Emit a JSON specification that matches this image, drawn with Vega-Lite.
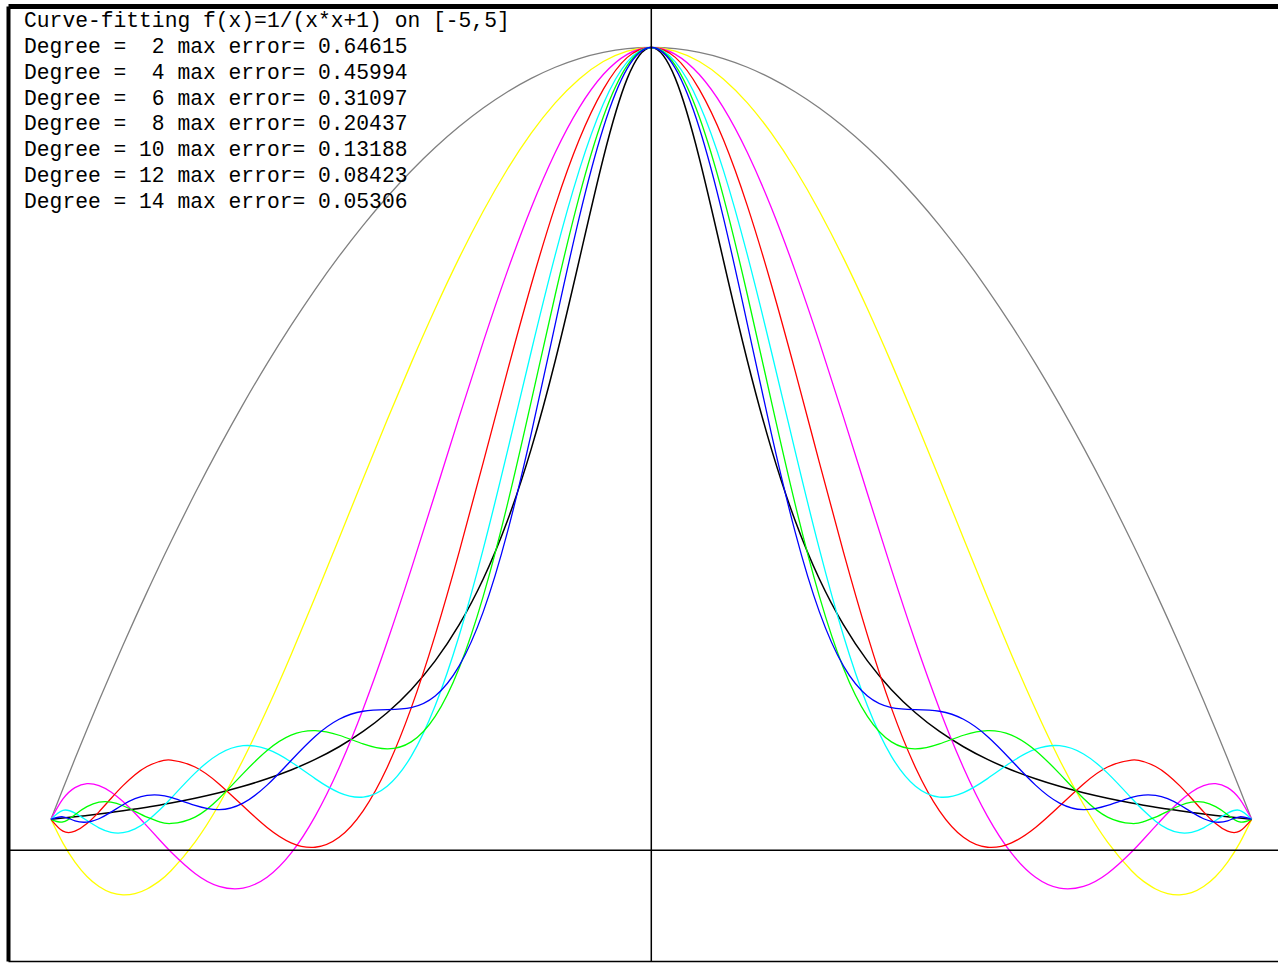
{
  "$schema": "https://vega.github.io/schema/vega-lite/v6.json",
  "width": 1270,
  "height": 955,
  "autosize": {"type": "none"},
  "padding": {"left": 8, "top": 6, "right": 0, "bottom": 2},
  "background": "white",
  "config": {
    "view": {"stroke": null},
    "axis": {"grid": false, "ticks": false, "labels": false, "title": null, "domainColor": "#000000"}
  },
  "resolve": {"axis": {"x": "independent", "y": "independent"}, "scale": {"y": "independent"}},
  "layer": [
    {
      "data": {"values": [
        {"x": -5.0, "f": 0.0385, "d2": 0.0385, "d4": 0.0385, "d6": 0.0385, "d8": 0.0385, "d10": 0.0385, "d12": 0.0385, "d14": 0.0385},
        {"x": -4.9, "f": 0.0400, "d2": 0.0765, "d4": 0.0088, "d6": 0.0638, "d8": 0.0237, "d10": 0.0497, "d12": 0.0352, "d14": 0.0416},
        {"x": -4.8, "f": 0.0416, "d2": 0.1138, "d4": -0.0148, "d6": 0.0779, "d8": 0.0237, "d10": 0.0462, "d12": 0.0443, "d14": 0.0366},
        {"x": -4.7, "f": 0.0433, "d2": 0.1504, "d4": -0.0328, "d6": 0.0829, "d8": 0.0332, "d10": 0.0370, "d12": 0.0542, "d14": 0.0350},
        {"x": -4.6, "f": 0.0451, "d2": 0.1862, "d4": -0.0453, "d6": 0.0805, "d8": 0.0478, "d10": 0.0279, "d12": 0.0598, "d14": 0.0392},
        {"x": -4.5, "f": 0.0471, "d2": 0.2212, "d4": -0.0529, "d6": 0.0726, "d8": 0.0644, "d10": 0.0223, "d12": 0.0599, "d14": 0.0474},
        {"x": -4.4, "f": 0.0491, "d2": 0.2554, "d4": -0.0557, "d6": 0.0606, "d8": 0.0804, "d10": 0.0218, "d12": 0.0554, "d14": 0.0567},
        {"x": -4.3, "f": 0.0513, "d2": 0.2888, "d4": -0.0541, "d6": 0.0460, "d8": 0.0941, "d10": 0.0266, "d12": 0.0484, "d14": 0.0642},
        {"x": -4.2, "f": 0.0536, "d2": 0.3215, "d4": -0.0483, "d6": 0.0300, "d8": 0.1043, "d10": 0.0362, "d12": 0.0411, "d14": 0.0683},
        {"x": -4.1, "f": 0.0561, "d2": 0.3535, "d4": -0.0388, "d6": 0.0136, "d8": 0.1104, "d10": 0.0494, "d12": 0.0356, "d14": 0.0687},
        {"x": -4.0, "f": 0.0588, "d2": 0.3846, "d4": -0.0256, "d6": -0.0022, "d8": 0.1123, "d10": 0.0647, "d12": 0.0333, "d14": 0.0658},
        {"x": -3.8, "f": 0.0648, "d2": 0.4446, "d4": 0.0102, "d6": -0.0289, "d8": 0.1037, "d10": 0.0960, "d12": 0.0413, "d14": 0.0558},
        {"x": -3.6, "f": 0.0716, "d2": 0.5015, "d4": 0.0570, "d6": -0.0450, "d8": 0.0826, "d10": 0.1199, "d12": 0.0645, "d14": 0.0505},
        {"x": -3.4, "f": 0.0796, "d2": 0.5554, "d4": 0.1127, "d6": -0.0472, "d8": 0.0550, "d10": 0.1302, "d12": 0.0954, "d14": 0.0587},
        {"x": -3.2, "f": 0.0890, "d2": 0.6062, "d4": 0.1755, "d6": -0.0337, "d8": 0.0283, "d10": 0.1258, "d12": 0.1243, "d14": 0.0811},
        {"x": -3.0, "f": 0.1000, "d2": 0.6538, "d4": 0.2436, "d6": -0.0037, "d8": 0.0092, "d10": 0.1099, "d12": 0.1434, "d14": 0.1118},
        {"x": -2.8, "f": 0.1131, "d2": 0.6985, "d4": 0.3152, "d6": 0.0422, "d8": 0.0037, "d10": 0.0892, "d12": 0.1490, "d14": 0.1417},
        {"x": -2.6, "f": 0.1289, "d2": 0.7400, "d4": 0.3887, "d6": 0.1028, "d8": 0.0161, "d10": 0.0718, "d12": 0.1432, "d14": 0.1631},
        {"x": -2.4, "f": 0.1479, "d2": 0.7785, "d4": 0.4627, "d6": 0.1760, "d8": 0.0491, "d10": 0.0662, "d12": 0.1325, "d14": 0.1731},
        {"x": -2.2, "f": 0.1712, "d2": 0.8138, "d4": 0.5359, "d6": 0.2593, "d8": 0.1031, "d10": 0.0797, "d12": 0.1263, "d14": 0.1752},
        {"x": -2.0, "f": 0.2000, "d2": 0.8462, "d4": 0.6068, "d6": 0.3498, "d8": 0.1770, "d10": 0.1169, "d12": 0.1349, "d14": 0.1777},
        {"x": -1.8, "f": 0.2358, "d2": 0.8754, "d4": 0.6745, "d6": 0.4444, "d8": 0.2680, "d10": 0.1799, "d12": 0.1667, "d14": 0.1922},
        {"x": -1.6, "f": 0.2809, "d2": 0.9015, "d4": 0.7379, "d6": 0.5398, "d8": 0.3717, "d10": 0.2674, "d12": 0.2270, "d14": 0.2296},
        {"x": -1.4, "f": 0.3378, "d2": 0.9246, "d4": 0.7960, "d6": 0.6330, "d8": 0.4829, "d10": 0.3750, "d12": 0.3162, "d14": 0.2969},
        {"x": -1.2, "f": 0.4098, "d2": 0.9446, "d4": 0.8480, "d6": 0.7208, "d8": 0.5958, "d10": 0.4959, "d12": 0.4299, "d14": 0.3953},
        {"x": -1.0, "f": 0.5000, "d2": 0.9615, "d4": 0.8932, "d6": 0.8004, "d8": 0.7044, "d10": 0.6213, "d12": 0.5592, "d14": 0.5189},
        {"x": -0.8, "f": 0.6098, "d2": 0.9754, "d4": 0.9310, "d6": 0.8692, "d8": 0.8027, "d10": 0.7416, "d12": 0.6920, "d14": 0.6555},
        {"x": -0.6, "f": 0.7353, "d2": 0.9862, "d4": 0.9609, "d6": 0.9251, "d8": 0.8853, "d10": 0.8473, "d12": 0.8145, "d14": 0.7884},
        {"x": -0.4, "f": 0.8621, "d2": 0.9938, "d4": 0.9825, "d6": 0.9663, "d8": 0.9478, "d10": 0.9297, "d12": 0.9134, "d14": 0.8998},
        {"x": -0.2, "f": 0.9615, "d2": 0.9985, "d4": 0.9956, "d6": 0.9915, "d8": 0.9877, "d10": 0.9821, "d12": 0.9777, "d14": 0.9740},
        {"x": 0.0, "f": 1.0, "d2": 1.0, "d4": 1.0, "d6": 1.0, "d8": 1.0, "d10": 1.0, "d12": 1.0, "d14": 1.0},
        {"x": 0.2, "f": 0.9615, "d2": 0.9985, "d4": 0.9956, "d6": 0.9915, "d8": 0.9877, "d10": 0.9821, "d12": 0.9777, "d14": 0.9740},
        {"x": 0.4, "f": 0.8621, "d2": 0.9938, "d4": 0.9825, "d6": 0.9663, "d8": 0.9478, "d10": 0.9297, "d12": 0.9134, "d14": 0.8998},
        {"x": 0.6, "f": 0.7353, "d2": 0.9862, "d4": 0.9609, "d6": 0.9251, "d8": 0.8853, "d10": 0.8473, "d12": 0.8145, "d14": 0.7884},
        {"x": 0.8, "f": 0.6098, "d2": 0.9754, "d4": 0.9310, "d6": 0.8692, "d8": 0.8027, "d10": 0.7416, "d12": 0.6920, "d14": 0.6555},
        {"x": 1.0, "f": 0.5000, "d2": 0.9615, "d4": 0.8932, "d6": 0.8004, "d8": 0.7044, "d10": 0.6213, "d12": 0.5592, "d14": 0.5189},
        {"x": 1.2, "f": 0.4098, "d2": 0.9446, "d4": 0.8480, "d6": 0.7208, "d8": 0.5958, "d10": 0.4959, "d12": 0.4299, "d14": 0.3953},
        {"x": 1.4, "f": 0.3378, "d2": 0.9246, "d4": 0.7960, "d6": 0.6330, "d8": 0.4829, "d10": 0.3750, "d12": 0.3162, "d14": 0.2969},
        {"x": 1.6, "f": 0.2809, "d2": 0.9015, "d4": 0.7379, "d6": 0.5398, "d8": 0.3717, "d10": 0.2674, "d12": 0.2270, "d14": 0.2296},
        {"x": 1.8, "f": 0.2358, "d2": 0.8754, "d4": 0.6745, "d6": 0.4444, "d8": 0.2680, "d10": 0.1799, "d12": 0.1667, "d14": 0.1922},
        {"x": 2.0, "f": 0.2000, "d2": 0.8462, "d4": 0.6068, "d6": 0.3498, "d8": 0.1770, "d10": 0.1169, "d12": 0.1349, "d14": 0.1777},
        {"x": 2.2, "f": 0.1712, "d2": 0.8138, "d4": 0.5359, "d6": 0.2593, "d8": 0.1031, "d10": 0.0797, "d12": 0.1263, "d14": 0.1752},
        {"x": 2.4, "f": 0.1479, "d2": 0.7785, "d4": 0.4627, "d6": 0.1760, "d8": 0.0491, "d10": 0.0662, "d12": 0.1325, "d14": 0.1731},
        {"x": 2.6, "f": 0.1289, "d2": 0.7400, "d4": 0.3887, "d6": 0.1028, "d8": 0.0161, "d10": 0.0718, "d12": 0.1432, "d14": 0.1631},
        {"x": 2.8, "f": 0.1131, "d2": 0.6985, "d4": 0.3152, "d6": 0.0422, "d8": 0.0037, "d10": 0.0892, "d12": 0.1490, "d14": 0.1417},
        {"x": 3.0, "f": 0.1000, "d2": 0.6538, "d4": 0.2436, "d6": -0.0037, "d8": 0.0092, "d10": 0.1099, "d12": 0.1434, "d14": 0.1118},
        {"x": 3.2, "f": 0.0890, "d2": 0.6062, "d4": 0.1755, "d6": -0.0337, "d8": 0.0283, "d10": 0.1258, "d12": 0.1243, "d14": 0.0811},
        {"x": 3.4, "f": 0.0796, "d2": 0.5554, "d4": 0.1127, "d6": -0.0472, "d8": 0.0550, "d10": 0.1302, "d12": 0.0954, "d14": 0.0587},
        {"x": 3.6, "f": 0.0716, "d2": 0.5015, "d4": 0.0570, "d6": -0.0450, "d8": 0.0826, "d10": 0.1199, "d12": 0.0645, "d14": 0.0505},
        {"x": 3.8, "f": 0.0648, "d2": 0.4446, "d4": 0.0102, "d6": -0.0289, "d8": 0.1037, "d10": 0.0960, "d12": 0.0413, "d14": 0.0558},
        {"x": 4.0, "f": 0.0588, "d2": 0.3846, "d4": -0.0256, "d6": -0.0022, "d8": 0.1123, "d10": 0.0647, "d12": 0.0333, "d14": 0.0658},
        {"x": 4.1, "f": 0.0561, "d2": 0.3535, "d4": -0.0388, "d6": 0.0136, "d8": 0.1104, "d10": 0.0494, "d12": 0.0356, "d14": 0.0687},
        {"x": 4.2, "f": 0.0536, "d2": 0.3215, "d4": -0.0483, "d6": 0.0300, "d8": 0.1043, "d10": 0.0362, "d12": 0.0411, "d14": 0.0683},
        {"x": 4.3, "f": 0.0513, "d2": 0.2888, "d4": -0.0541, "d6": 0.0460, "d8": 0.0941, "d10": 0.0266, "d12": 0.0484, "d14": 0.0642},
        {"x": 4.4, "f": 0.0491, "d2": 0.2554, "d4": -0.0557, "d6": 0.0606, "d8": 0.0804, "d10": 0.0218, "d12": 0.0554, "d14": 0.0567},
        {"x": 4.5, "f": 0.0471, "d2": 0.2212, "d4": -0.0529, "d6": 0.0726, "d8": 0.0644, "d10": 0.0223, "d12": 0.0599, "d14": 0.0474},
        {"x": 4.6, "f": 0.0451, "d2": 0.1862, "d4": -0.0453, "d6": 0.0805, "d8": 0.0478, "d10": 0.0279, "d12": 0.0598, "d14": 0.0392},
        {"x": 4.7, "f": 0.0433, "d2": 0.1504, "d4": -0.0328, "d6": 0.0829, "d8": 0.0332, "d10": 0.0370, "d12": 0.0542, "d14": 0.0350},
        {"x": 4.8, "f": 0.0416, "d2": 0.1138, "d4": -0.0148, "d6": 0.0779, "d8": 0.0237, "d10": 0.0462, "d12": 0.0443, "d14": 0.0366},
        {"x": 4.9, "f": 0.0400, "d2": 0.0765, "d4": 0.0088, "d6": 0.0638, "d8": 0.0237, "d10": 0.0497, "d12": 0.0352, "d14": 0.0416},
        {"x": 5.0, "f": 0.0385, "d2": 0.0385, "d4": 0.0385, "d6": 0.0385, "d8": 0.0385, "d10": 0.0385, "d12": 0.0385, "d14": 0.0385}
      ]},
      "transform": [{"fold": ["f", "d2", "d4", "d6", "d8", "d10", "d12", "d14"], "as": ["series", "y"]}],
      "mark": {"type": "line", "interpolate": "natural"},
      "encoding": {
        "x": {"field": "x", "type": "quantitative", "scale": {"domain": [-5.3577, 5.2195], "nice": false, "zero": false}, "axis": {"orient": "top", "domainWidth": 5}},
        "y": {"field": "y", "type": "quantitative", "scale": {"domain": [-0.13803, 1.0517], "nice": false, "zero": false}, "axis": {"orient": "left", "domainWidth": 4}},
        "color": {"field": "series", "type": "nominal", "scale": {"domain": ["f", "d2", "d4", "d6", "d8", "d10", "d12", "d14"], "range": ["#000000", "#808080", "#ffff00", "#ff00ff", "#ff0000", "#00ffff", "#00ff00", "#0000ff"]}, "legend": null},
        "strokeWidth": {"condition": {"test": "datum.series === 'f'", "value": 1.5}, "value": 1.3}
      }
    },
    {
      "data": {"values": [{"v": 0}]},
      "mark": {"type": "rule", "color": "#000000", "strokeWidth": 1.5},
      "encoding": {
        "x": {"field": "v", "type": "quantitative", "scale": {"domain": [-5.3577, 5.2195], "nice": false, "zero": false}, "axis": {"orient": "bottom", "domainWidth": 1.5}}
      }
    },
    {
      "data": {"values": [{"v": 0}]},
      "mark": {"type": "rule", "color": "#000000", "strokeWidth": 1.5},
      "encoding": {
        "y": {"field": "v", "type": "quantitative", "scale": {"domain": [-0.13803, 1.0517], "nice": false, "zero": false}, "axis": null}
      }
    },
    {
      "data": {"values": [
        {"row": 0, "label": "Curve-fitting f(x)=1/(x*x+1) on [-5,5]"},
        {"row": 1, "label": "Degree = \u00a02 max error= 0.64615"},
        {"row": 2, "label": "Degree = \u00a04 max error= 0.45994"},
        {"row": 3, "label": "Degree = \u00a06 max error= 0.31097"},
        {"row": 4, "label": "Degree = \u00a08 max error= 0.20437"},
        {"row": 5, "label": "Degree = 10 max error= 0.13188"},
        {"row": 6, "label": "Degree = 12 max error= 0.08423"},
        {"row": 7, "label": "Degree = 14 max error= 0.05306"}
      ]},
      "mark": {"type": "text", "align": "left", "baseline": "alphabetic", "dy": 21, "font": "Liberation Mono", "fontSize": 21.3, "color": "#000000"},
      "encoding": {
        "x": {"datum": -5.224, "scale": {"domain": [-5.3577, 5.2195], "nice": false, "zero": false}, "axis": null},
        "y": {"field": "row", "type": "quantitative", "scale": {"domain": [0, 36.944], "reverse": true, "nice": false, "zero": false}, "axis": null},
        "text": {"field": "label", "type": "nominal"}
      }
    }
  ]
}
